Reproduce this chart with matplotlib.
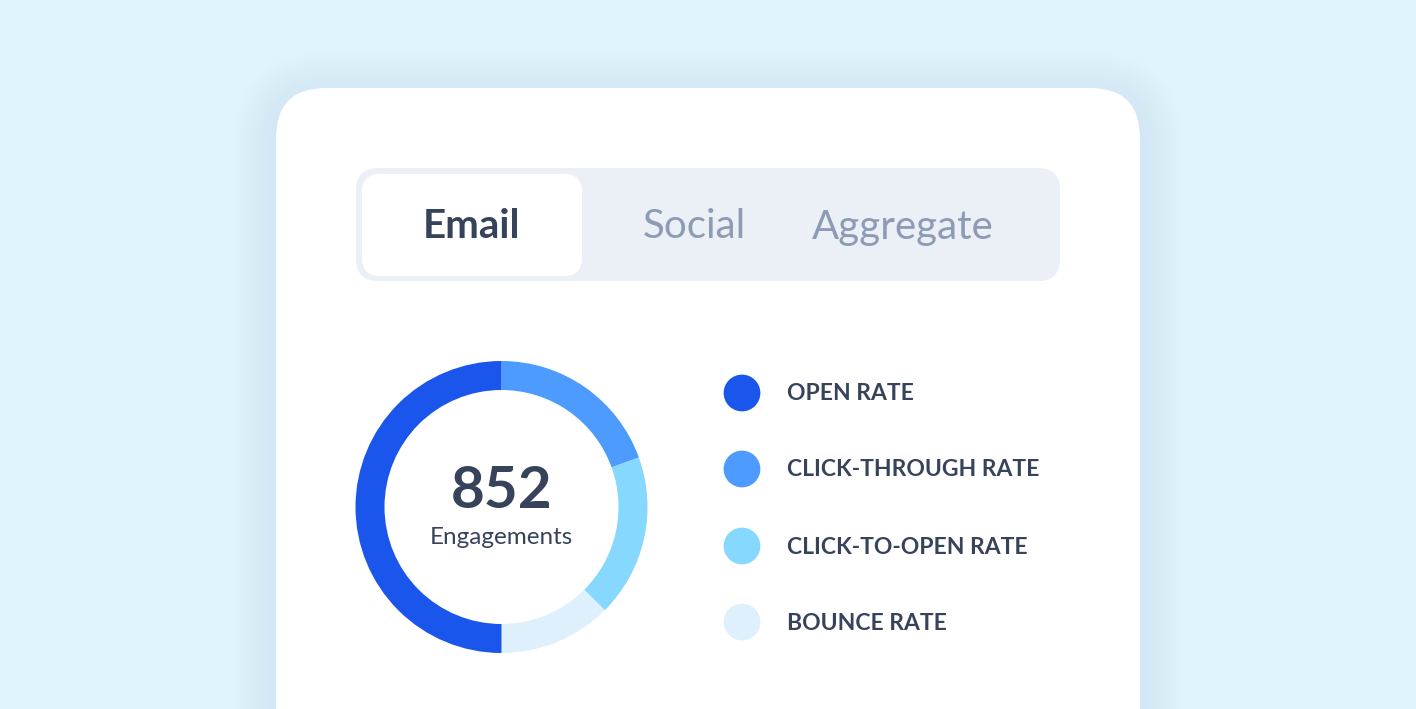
import matplotlib.pyplot as plt
from matplotlib.patches import FancyBboxPatch

# data
tabs = ["Email", "Social", "Aggregate"]
active_tab = "Email"
labels = ["OPEN RATE", "CLICK-THROUGH RATE", "CLICK-TO-OPEN RATE", "BOUNCE RATE"]
shares = [50.0, 19.5, 18.0, 12.5]
colors = ["#1A56EB", "#4D9BFF", "#87D8FF", "#DDF0FC"]
total = 852
total_label = "Engagements"

W, H = 1416, 709
fig = plt.figure(figsize=(W / 100, H / 100), dpi=100)
fig.patch.set_facecolor("#E0F4FE")
ax = fig.add_axes([0, 0, 1, 1])
ax.set_facecolor("#E0F4FE")

FONT = ["Lato", "DejaVu Sans"]
DARK = "#37435A"
MUTED = "#8E9BB5"

# soft shadow around the card
for i in range(14):
    grow = 3 * (14 - i)
    sh = FancyBboxPatch((276 - grow, 88 - grow + 6), 864 + 2 * grow, 700 + 2 * grow,
                        boxstyle="round,pad=0,rounding_size=%d" % (50 + grow),
                        fc="#C2E2F5", ec="none", alpha=0.02, zorder=1)
    ax.add_patch(sh)

# card
card = FancyBboxPatch((276, 88), 864, 700, boxstyle="round,pad=0,rounding_size=50",
                      fc="white", ec="none", zorder=2)
ax.add_patch(card)

# tab bar
bar = FancyBboxPatch((356, 168), 704, 113, boxstyle="round,pad=0,rounding_size=22",
                     fc="#EBF0F7", ec="none", zorder=3)
ax.add_patch(bar)
sel = FancyBboxPatch((362, 174), 220, 102, boxstyle="round,pad=0,rounding_size=18",
                     fc="white", ec="none", zorder=4)
ax.add_patch(sel)

tab_x = [472, 694, 903]
for name, x in zip(tabs, tab_x):
    on = name == active_tab
    ax.text(x, 227, name, ha="center", va="center", fontsize=29,
            fontweight="bold" if on else "normal", color=DARK if on else MUTED,
            family=FONT, zorder=5)

# donut: draw in screen-clockwise order starting at top (y axis is inverted)
order = [1, 2, 3, 0]
ax.pie([shares[i] for i in order], colors=[colors[i] for i in order],
       center=(501.5, 507), radius=146, startangle=-90, counterclock=True,
       wedgeprops=dict(width=29, linewidth=0), frame=True)
for p in ax.patches[-4:]:
    p.set_zorder(5)

ax.text(501.5, 491, str(total), ha="center", va="center", fontsize=42,
        fontweight="bold", color=DARK, family=FONT, zorder=6)
ax.text(501.5, 537, total_label, ha="center", va="center", fontsize=17.5,
        color=DARK, family=FONT, zorder=6)

# legend
leg_y = [393, 469, 546, 622]
ax.scatter([742] * len(labels), leg_y, s=700, c=colors, linewidths=0, zorder=6)
for lab, y in zip(labels, leg_y):
    ax.text(787, y + 1, lab, ha="left", va="center", fontsize=16.5, fontweight="bold",
            color=DARK, family=FONT, zorder=6)

ax.set_xlim(0, W)
ax.set_ylim(H, 0)
ax.set_aspect("auto")
ax.axis("off")

fig.savefig("out.png", dpi=100, facecolor=fig.get_facecolor())
